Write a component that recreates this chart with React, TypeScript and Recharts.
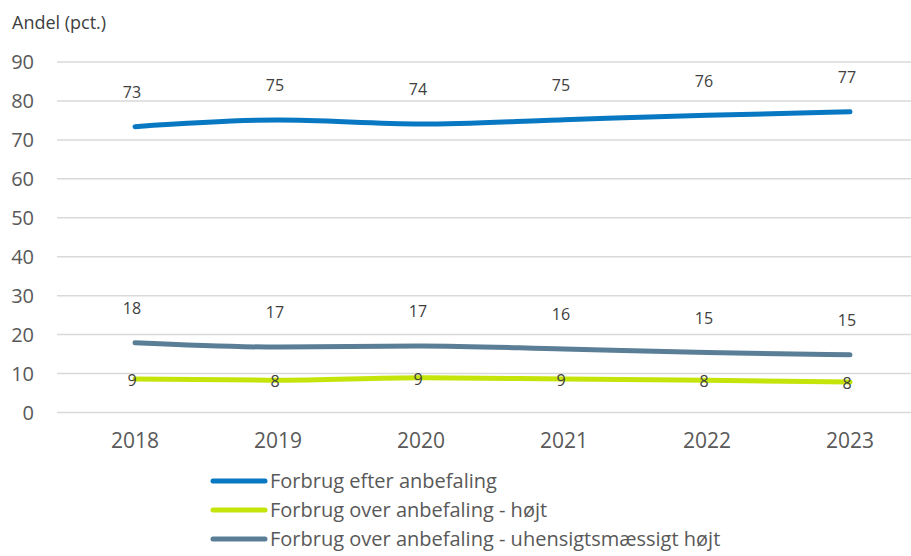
import React from 'react';
import { LineChart, Line, XAxis, YAxis, CartesianGrid, LabelList, Legend } from 'recharts';

const years = ['2018', '2019', '2020', '2021', '2022', '2023'];
const efter = [73.4, 75.1, 74.1, 75.2, 76.3, 77.2];
const hoejt = [8.6, 8.3, 8.9, 8.6, 8.3, 7.8];
const uhensigts = [17.9, 16.8, 17.1, 16.3, 15.4, 14.8];
const yTicks = [0, 10, 20, 30, 40, 50, 60, 70, 80, 90];

const series = [
  { key: 'efter', label: 'Forbrug efter anbefaling', color: '#0878c2', labelPos: 'above' },
  { key: 'hoejt', label: 'Forbrug over anbefaling - højt', color: '#c5e40a', labelPos: 'center' },
  { key: 'uhensigts', label: 'Forbrug over anbefaling - uhensigtsmæssigt højt', color: '#5a7e96', labelPos: 'above' },
];

const data = years.map((year, i) => ({
  year,
  efter: efter[i],
  hoejt: hoejt[i],
  uhensigts: uhensigts[i],
}));

const FONT = '"Open Sans", sans-serif';

const makeLabel = (pos: string) => (props: any) => {
  const { x, y, value } = props;
  const dy = pos === 'above' ? -33 : 3;
  return (
    <text
      x={x - 3}
      y={y + dy}
      textAnchor="middle"
      dominantBaseline="middle"
      fontSize={16}
      fontFamily={FONT}
      fill="#404040"
    >
      {Math.round(value)}
    </text>
  );
};

const renderLegend = () => (
  <div style={{ fontFamily: FONT, fontSize: 20, color: '#595959', lineHeight: '26px' }}>
    {series.map((s) => (
      <div key={s.key} style={{ display: 'flex', alignItems: 'center', height: 29 }}>
        <svg width={58} height={10} style={{ marginRight: 2 }}>
          <line x1={3} y1={5} x2={55} y2={5} stroke={s.color} strokeWidth={5} strokeLinecap="round" />
        </svg>
        <span>{s.label}</span>
      </div>
    ))}
  </div>
);

export default function App() {
  return (
    <div style={{ position: 'absolute', left: 0, top: 0, width: 911, height: 556, background: '#fff' }}>
      <div
        style={{
          position: 'absolute',
          left: 12,
          top: 11,
          fontFamily: FONT,
          fontSize: 18,
          color: '#404040',
          lineHeight: '22px',
        }}
      >
        Andel (pct.)
      </div>
      <LineChart
        width={911}
        height={556}
        data={data}
        margin={{ top: 62, right: 0, bottom: 13.5, left: 0 }}
      >
        <CartesianGrid horizontal vertical={false} stroke="#d9d9d9" strokeWidth={1.5} />
        <XAxis
          dataKey="year"
          scale="point"
          padding={{ left: 78, right: 61 }}
          axisLine={false}
          tickLine={false}
          tickMargin={15}
          height={40}
          tick={{ fill: '#595959', fontSize: 21, fontFamily: FONT }}
        />
        <YAxis
          domain={[0, 90]}
          ticks={yTicks}
          width={57}
          axisLine={false}
          tickLine={false}
          tickMargin={17}
          interval={0}
          tick={{ fill: '#595959', fontSize: 20, fontFamily: FONT }}
        />
        <Legend
          verticalAlign="bottom"
          height={90}
          content={renderLegend}
          wrapperStyle={{ top: 466, left: 210, width: 'auto', bottom: 'auto' }}
        />
        {series.map((s) => (
          <Line
            key={s.key}
            type="monotone"
            dataKey={s.key}
            name={s.label}
            stroke={s.color}
            strokeWidth={5}
            strokeLinecap="round"
            dot={false}
            activeDot={false}
            isAnimationActive={false}
          >
            <LabelList dataKey={s.key} content={makeLabel(s.labelPos)} />
          </Line>
        ))}
      </LineChart>
    </div>
  );
}
